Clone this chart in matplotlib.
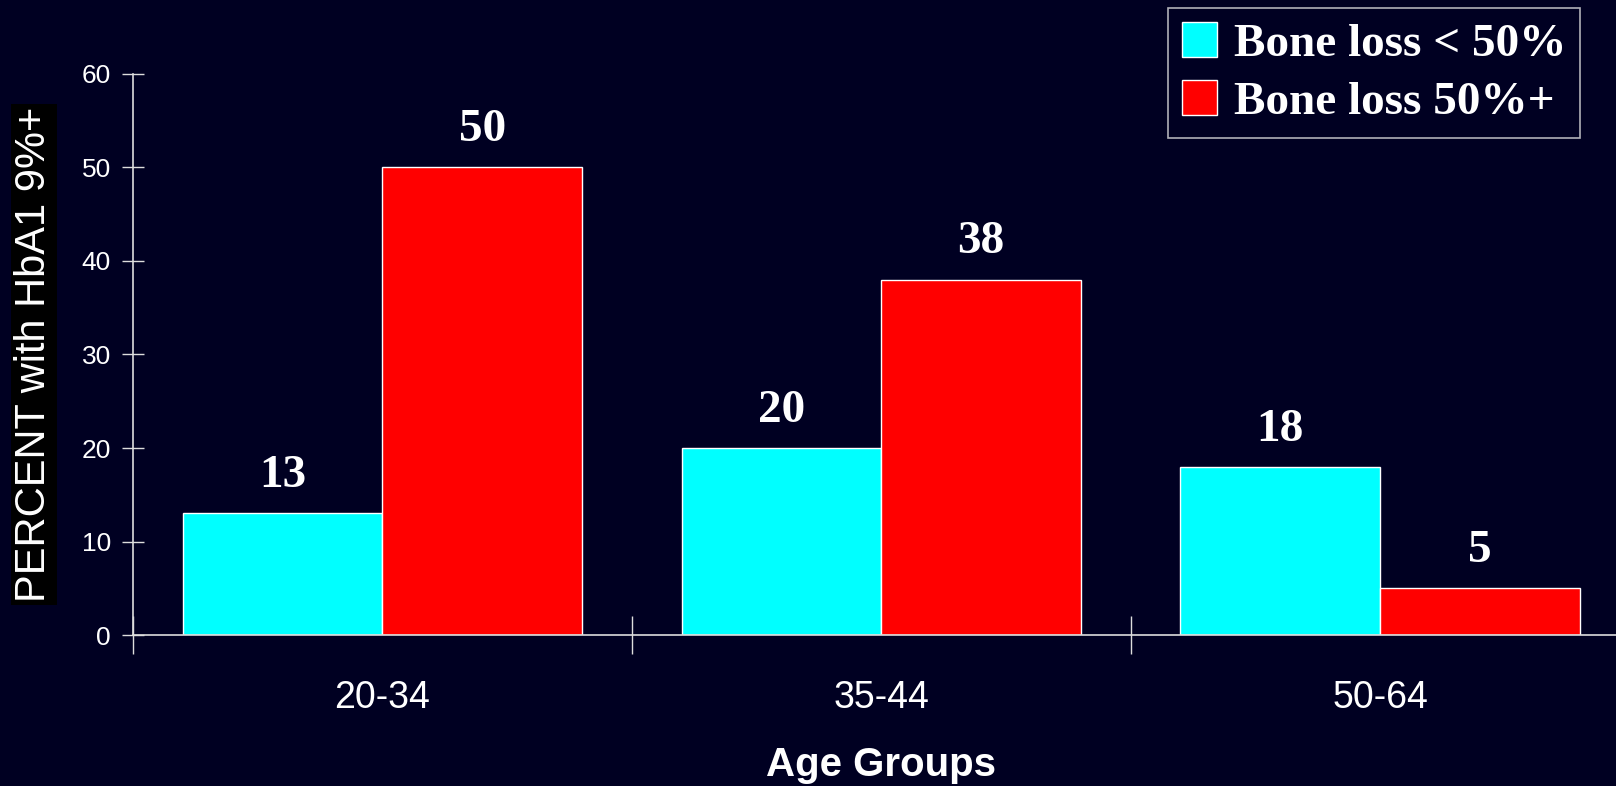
import matplotlib.pyplot as plt
import numpy as np

# age groups and percent with HbA1 9%+
groups = ['20-34', '35-44', '50-64']
loss_low = [13, 20, 18]     # bone loss < 50%
loss_high = [50, 38, 5]     # bone loss 50%+
series_names = ['Bone loss < 50%', 'Bone loss 50%+']

bg = '#000022'
fig = plt.figure(figsize=(16.16, 7.86), dpi=100, facecolor=bg)
ax = fig.add_axes([0.0823, 0.192, 0.926, 0.714], facecolor=bg)

x = np.arange(len(groups))
w = 0.4
b1 = ax.bar(x - w/2, loss_low, w, color='#00ffff', edgecolor='white', linewidth=1, label=series_names[0])
b2 = ax.bar(x + w/2, loss_high, w, color='#ff0000', edgecolor='white', linewidth=1, label=series_names[1])

# value labels above each bar
for bars, vals in [(b1, loss_low), (b2, loss_high)]:
    for r, v in zip(bars, vals):
        ax.text(r.get_x() + r.get_width()/2, v + 2.8, str(v), ha='center', va='baseline',
                color='white', fontsize=34, fontweight='bold', family='Liberation Serif')

ax.set_xlim(-0.5, 2.5)
ax.set_ylim(0, 60)
ax.set_yticks(range(0, 61, 10))
ax.set_xticks(x)
ax.set_xticklabels(groups)
ax.set_xticks([-0.5, 0.5, 1.5, 2.5], minor=True)
ax.tick_params(axis='x', which='major', length=0, pad=32, labelsize=27, labelcolor='white')
ax.tick_params(axis='x', which='minor', length=28, direction='inout', color='#dddddd', width=1)
ax.tick_params(axis='y', length=16, direction='inout', color='#dddddd', width=1,
               labelsize=19, labelcolor='white', pad=8)
for lbl in ax.get_xticklabels() + ax.get_yticklabels():
    lbl.set_family('Liberation Sans')

for s in ['top', 'right']:
    ax.spines[s].set_visible(False)
for s in ['left', 'bottom']:
    ax.spines[s].set_color('#dddddd')
    ax.spines[s].set_linewidth(1.2)

ax.set_xlabel('Age Groups', color='white', fontsize=29, fontweight='bold',
              family='Liberation Sans', labelpad=22)
ax.set_ylabel('PERCENT with HbA1 9%+', color='white', fontsize=30, family='Liberation Sans',
              labelpad=20, bbox=dict(facecolor='black', edgecolor='none', pad=2))

leg = fig.legend(loc='upper right', bbox_to_anchor=(0.978, 0.99), frameon=True,
                 prop={'family': 'Liberation Serif', 'weight': 'bold', 'size': 34},
                 handlelength=0.75, handleheight=0.75, handletextpad=0.35,
                 borderpad=0.3, labelspacing=0.3, borderaxespad=0.0, fancybox=False)
leg.get_frame().set_facecolor(bg)
leg.get_frame().set_edgecolor('#dddddd')
leg.get_frame().set_linewidth(1.2)
for t in leg.get_texts():
    t.set_color('white')

fig.savefig('out.png', facecolor=bg)
